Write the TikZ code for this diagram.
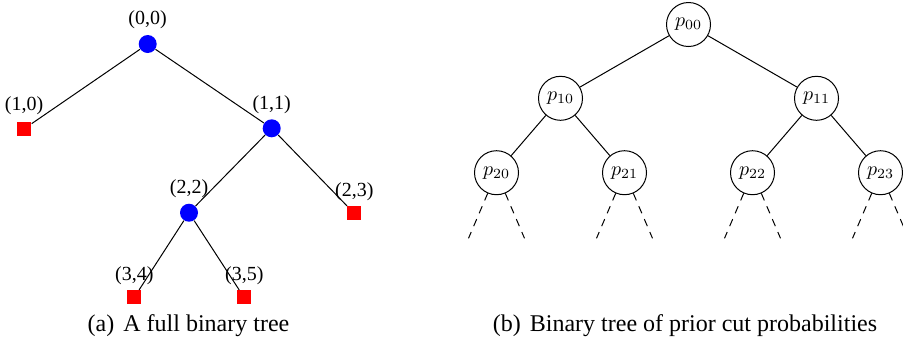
\documentclass[tikz,border=0pt]{standalone}
\usepackage{fontspec}
\setmainfont{Liberation Serif}
\usetikzlibrary{calc}
\tikzset{
  inner/.style={circle, fill=blue, inner sep=0pt, minimum size=9pt},
  leaf/.style={rectangle, fill=red, inner sep=0pt, minimum size=7pt},
  lbl/.style={font=\fontsize{10}{12}\selectfont, inner sep=0pt},
  prob/.style={circle, draw, line width=0.5pt, minimum size=22pt, inner sep=0pt},
  edge/.style={line width=0.5pt},
  openedge/.style={line width=0.5pt, dash pattern=on 3.8pt off 3.2pt},
  captext/.style={font=\fontsize{12}{14}\selectfont, inner sep=0pt},
}
\begin{document}
\begin{tikzpicture}[x=0.5pt, y=-0.5pt]
\useasboundingbox (0,0) rectangle (903,345);

% (a) full binary tree
\node[inner] (n00) at (147.7,44) {};
\node[inner] (n11) at (271.7,128.3) {};
\node[inner] (n22) at (189,212.7) {};
\node[leaf] (n10) at (24.3,128.7) {};
\node[leaf] (n23) at (354.2,213.3) {};
\node[leaf] (n34) at (134.3,297.3) {};
\node[leaf] (n35) at (244,297.3) {};

\draw[edge] (n00) -- (n10);
\draw[edge] (n00) -- (n11);
\draw[edge] (n11) -- (n22);
\draw[edge] (n11) -- (n23);
\draw[edge] (n22) -- (n34);
\draw[edge] (n22) -- (n35);

\node[lbl] (l00) at (147.5,20) {(0,0)};
\node[lbl] (l10) at (24,106) {(1,0)};
\node[lbl] (l11) at (271.7,104.3) {(1,1)};
\node[lbl] (l22) at (189,189) {(2,2)};
\node[lbl] (l23) at (354.3,191.7) {(2,3)};
\node[lbl] (l34) at (134.3,275.7) {(3,4)};
\node[lbl] (l35) at (244.3,275.7) {(3,5)};

\node[captext] (capa) at (188.5,326) {(a)\hspace{4.5pt}A full binary tree};

% (b) binary tree of prior cut probabilities
\node[prob] (p00) at (688.5,24.5) {$p_{00}$};
\node[prob] (p10) at (560.5,98.3) {$p_{10}$};
\node[prob] (p11) at (816.5,98.3) {$p_{11}$};
\node[prob] (p20) at (496.5,172.7) {$p_{20}$};
\node[prob] (p21) at (624.5,172.7) {$p_{21}$};
\node[prob] (p22) at (752.5,172.7) {$p_{22}$};
\node[prob] (p23) at (880.5,172.7) {$p_{23}$};

\draw[edge] (p00) -- (p10);
\draw[edge] (p00) -- (p11);
\draw[edge] (p10) -- (p20);
\draw[edge] (p10) -- (p21);
\draw[edge] (p11) -- (p22);
\draw[edge] (p11) -- (p23);

% open subtrees below the last level
\foreach \n in {p20,p21,p22,p23}{
  \coordinate (\n l) at ($(\n)+(-28,65.6)$);
  \coordinate (\n r) at ($(\n)+(28,65.6)$);
  \draw[openedge] (\n) -- (\n l);
  \draw[openedge] (\n) -- (\n r);
}

\node[captext] (capb) at (685,326) {(b)\hspace{4.5pt}Binary tree of prior cut probabilities};
\end{tikzpicture}
\end{document}
